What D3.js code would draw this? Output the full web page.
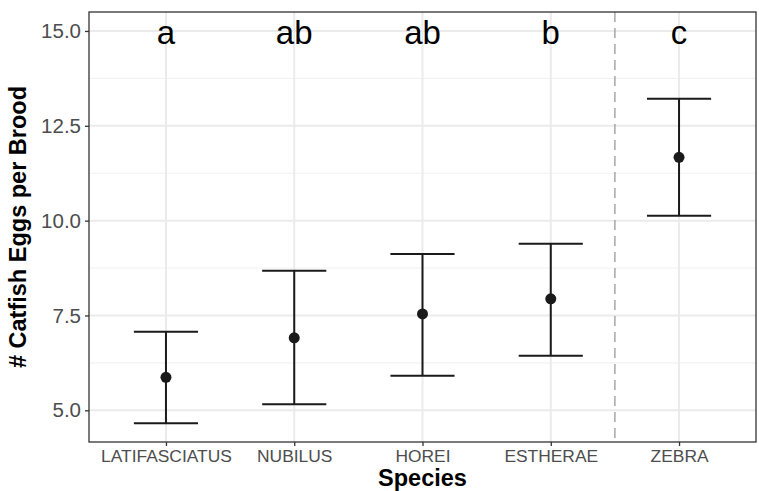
<!DOCTYPE html>
<html>
<head>
<meta charset="utf-8">
<script src="https://cdn.jsdelivr.net/npm/d3@7"></script>
<style>
  body { margin: 0; background: #fff; }
  svg text { font-family: "Liberation Sans", Arial, sans-serif; }
</style>
</head>
<body>
<svg id="chart" width="759" height="491"></svg>
<script>
/*** DATA ***/
var species = ['LATIFASCIATUS', 'NUBILUS', 'HOREI', 'ESTHERAE', 'ZEBRA'];
var meanEggs = [5.87, 6.91, 7.54, 7.94, 11.67];
var lowerCI = [4.66, 5.16, 5.91, 6.44, 10.13];
var upperCI = [7.07, 8.68, 9.12, 9.39, 13.21];
var groupLetters = ['a', 'ab', 'ab', 'b', 'c'];
var yTicks = [5, 7.5, 10, 12.5, 15];
var yMinorTicks = [6.25, 8.75, 11.25, 13.75];

/*** LAYOUT ***/
var margin = {top: 12, right: 3, bottom: 49, left: 89};
var width = 759 - margin.left - margin.right;
var height = 491 - margin.top - margin.bottom;

var svg = d3.select('#chart');
var g = svg.append('g').attr('transform', 'translate(' + margin.left + ',' + margin.top + ')');

//scales (discrete axis with 0.6 expansion like ggplot)
var x = d3.scaleLinear().domain([0.4, species.length + 0.6]).range([0, width]);
var y = d3.scaleLinear().domain([4.164, 15.5]).range([height, 0]);

//grid
g.selectAll('.minor').data(yMinorTicks).enter().append('line')
  .attr('x1', 0).attr('x2', width)
  .attr('y1', function(d) { return y(d); }).attr('y2', function(d) { return y(d); })
  .attr('stroke', '#F2F2F2').attr('stroke-width', 1.1);

g.selectAll('.major').data(yTicks).enter().append('line')
  .attr('x1', 0).attr('x2', width)
  .attr('y1', function(d) { return y(d); }).attr('y2', function(d) { return y(d); })
  .attr('stroke', '#EBEBEB').attr('stroke-width', 2);

g.selectAll('.vmajor').data(species).enter().append('line')
  .attr('x1', function(d, i) { return x(i + 1); }).attr('x2', function(d, i) { return x(i + 1); })
  .attr('y1', 0).attr('y2', height)
  .attr('stroke', '#EBEBEB').attr('stroke-width', 2);

//dashed separator before zebra
g.append('line')
  .attr('x1', x(4.5)).attr('x2', x(4.5))
  .attr('y1', 0).attr('y2', height)
  .attr('stroke', '#999999').attr('stroke-width', 1.3)
  .attr('stroke-dasharray', '10,6');

//error bars
var capHalf = (x(1.25) - x(1));
species.forEach(function(s, i) {
  var cx = x(i + 1);
  var bar = g.append('g').attr('stroke', '#1a1a1a').attr('stroke-width', 2);
  bar.append('line').attr('x1', cx).attr('x2', cx).attr('y1', y(lowerCI[i])).attr('y2', y(upperCI[i]));
  bar.append('line').attr('x1', cx - capHalf).attr('x2', cx + capHalf).attr('y1', y(upperCI[i])).attr('y2', y(upperCI[i]));
  bar.append('line').attr('x1', cx - capHalf).attr('x2', cx + capHalf).attr('y1', y(lowerCI[i])).attr('y2', y(lowerCI[i]));
  g.append('circle').attr('cx', cx).attr('cy', y(meanEggs[i])).attr('r', 5.5).attr('fill', '#1a1a1a');

  //significance letters
  g.append('text')
    .attr('x', cx).attr('y', y(15) + 13)
    .attr('text-anchor', 'middle')
    .attr('font-size', 33)
    .attr('fill', '#000')
    .text(groupLetters[i]);
});

//panel border
g.append('rect').attr('width', width).attr('height', height)
  .attr('fill', 'none').attr('stroke', '#333333').attr('stroke-width', 1.3);

//axes
var yAxis = g.append('g')
  .call(d3.axisLeft(y).tickValues(yTicks).tickFormat(d3.format('.1f')).tickSize(4).tickPadding(4));
yAxis.select('.domain').remove();
yAxis.selectAll('line').attr('stroke', '#333333').attr('stroke-width', 1.3);
yAxis.selectAll('text').attr('font-size', 20.5).attr('fill', '#4D4D4D')
  .attr('font-family', '"Liberation Sans", Arial, sans-serif');

var xAxis = g.append('g').attr('transform', 'translate(0,' + height + ')')
  .call(d3.axisBottom(x).tickValues(d3.range(1, species.length + 1))
    .tickFormat(function(d) { return species[d - 1]; }).tickSize(4).tickPadding(4));
xAxis.select('.domain').remove();
xAxis.selectAll('line').attr('stroke', '#333333').attr('stroke-width', 1.3);
xAxis.selectAll('text').attr('font-size', 17.4).attr('fill', '#4D4D4D')
  .attr('font-family', '"Liberation Sans", Arial, sans-serif');

//axis titles
svg.append('text')
  .attr('x', margin.left + width / 2).attr('y', 486)
  .attr('text-anchor', 'middle')
  .attr('font-size', 23.5).attr('font-weight', 'bold').attr('fill', '#000')
  .text('Species');

svg.append('text')
  .attr('transform', 'translate(26,' + (margin.top + height / 2) + ') rotate(-90)')
  .attr('text-anchor', 'middle')
  .attr('font-size', 23.5).attr('font-weight', 'bold').attr('fill', '#000')
  .text('# Catfish Eggs per Brood');
</script>
</body>
</html>
